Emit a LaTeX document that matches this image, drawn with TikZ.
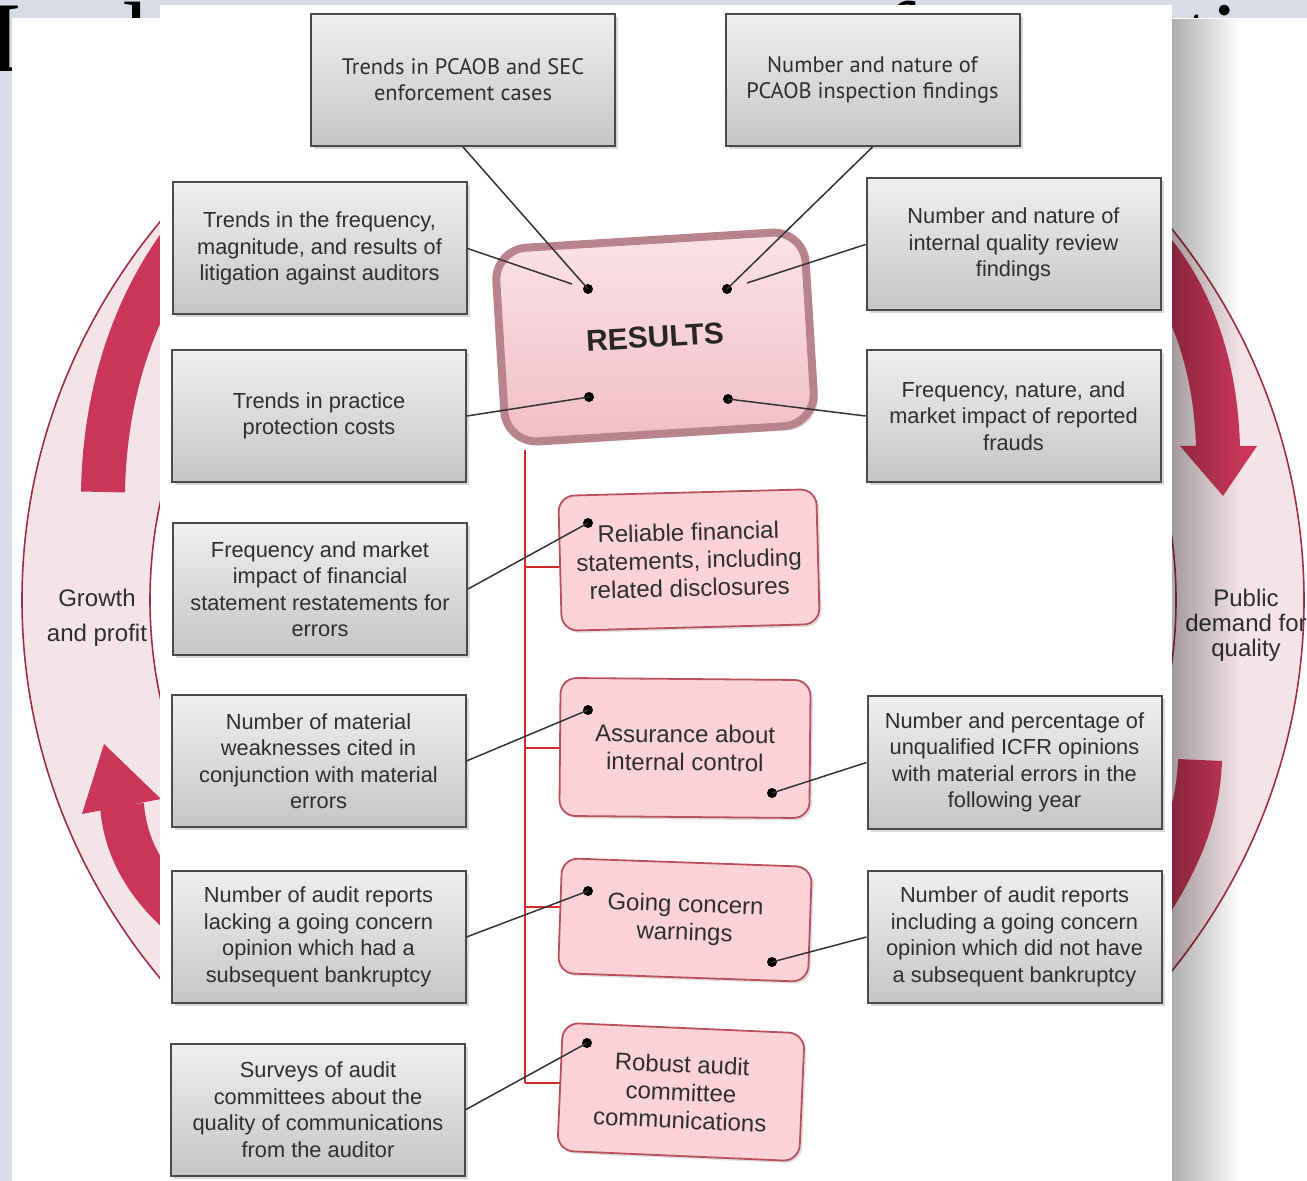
\documentclass[tikz,border=0pt]{standalone}
\usepackage{fontspec}
\setmainfont{Liberation Sans}
\newfontfamily\ttlfont{Liberation Serif}
\newfontfamily\narrowfont{PT Sans}
\usetikzlibrary{calc,shadows,fadings}
\definecolor{bgblue}{HTML}{D8DCE7}
\definecolor{ringpink}{HTML}{F3E4E8}
\definecolor{ringline}{HTML}{9E2F45}
\definecolor{arrowred}{HTML}{C9365A}
\definecolor{boxtop}{HTML}{EFEFEF}
\definecolor{boxbot}{HTML}{C6C6C6}
\definecolor{boxline}{HTML}{4A4A4A}
\definecolor{txt}{HTML}{2E2E2E}
\definecolor{pinkfill}{HTML}{FAD2D8}
\definecolor{pinkline}{HTML}{B9505D}
\definecolor{restop}{HTML}{FBE3E7}
\definecolor{resbot}{HTML}{F2BDC5}
\definecolor{resrim}{HTML}{B8838C}
\definecolor{redline}{HTML}{D42A2E}
\begin{document}
\begin{tikzpicture}[x=0.5pt,y=-0.5pt,
  graybox/.style={draw=boxline, line width=1pt, top color=boxtop, bottom color=boxbot,
    align=center, text=txt, inner sep=0pt,
    font=\fontsize{10.9}{13.25}\selectfont,
    minimum width=147pt, minimum height=66pt,
    drop shadow={opacity=0.3, shadow xshift=1.5pt, shadow yshift=-1.5pt}},
  topbox/.style={graybox, font=\narrowfont\fontsize{11.2}{13}\selectfont},
  pinkbox/.style={draw=pinkline, line width=0.9pt, fill=pinkfill, rounded corners=8pt,
    align=center, text=txt, inner sep=0pt, font=\fontsize{12}{14}\selectfont,
    drop shadow={opacity=0.25, shadow xshift=1.2pt, shadow yshift=-1.2pt}},
  dot/.style={circle, fill=black, inner sep=0pt, minimum size=5pt},
  conn/.style={draw=black!80, line width=0.75pt},
  redl/.style={draw=redline, line width=1.4pt},
  band/.style={draw=arrowred, line width=22pt, line cap=butt},
  ttl/.style={font=\ttlfont\fontsize{50}{50}\selectfont, anchor=base west, inner sep=0pt, text=black},
  ringtext/.style={align=center, text=txt, font=\fontsize{12}{17.5}\selectfont}
]
\useasboundingbox (0,0) rectangle (1307,1181);
\clip (0,0) rectangle (1307,1181);
\fill[bgblue] (0,0) rectangle (1307,1181);
% title fragments
\node[ttl] (tI) at (-12,72) {I};
\node[ttl] (td) at (97,72) {d};
\node[ttl] (tf) at (882,72) {f};
\node[ttl] (tti) at (1183,72) {ti};
% circle picture
\fill[white] (12,18) rectangle (1307,1181);
\begin{scope}
\clip (12,18) rectangle (1307,1181);
\coordinate (O) at (663,600);
\fill[ringpink, even odd rule] (O) ellipse [x radius=641, y radius=610] (O) ellipse [x radius=513, y radius=488];
\draw[ringline, line width=0.8pt] (O) ellipse [x radius=641, y radius=610];
\draw[ringline, line width=0.8pt] (O) ellipse [x radius=513, y radius=488];
% curved arrows
\draw[band] (250,172) .. controls (150,250) and (105,370) .. (103,492);
\draw[band] (1090,195) .. controls (1175,250) and (1215,340) .. (1218,447);
\fill[arrowred] (1180,446) -- (1257,446) -- (1223,496) -- cycle;
\draw[band] (1200,760) .. controls (1198,815) and (1180,870) .. (1110,960);
\draw[band] (215,940) .. controls (160,905) and (126,860) .. (122,805);
\fill[arrowred] (82,814) -- (161,799) -- (104,744) -- cycle;
\end{scope}
\node[ringtext] (growth) at (97,618) {Growth\\and profit};
\node[ringtext, font=\fontsize{12}{12.5}\selectfont] (public) at (1246,625) {Public\\demand for\\quality};
% panel
\fill[white] (160,5) rectangle (1172,1181);
\fill[black, fill opacity=0.32, path fading=east] (1172,18) rectangle (1240,1181);
% gray boxes
\node[topbox, minimum width=152pt] (g1) at (463,80) {Trends in PCAOB and SEC\\enforcement cases};
\node[topbox] (g2) at (872.5,80) {Number and nature of\\PCAOB inspection findings};
\node[graybox] (g3) at (319.5,248.5) {Trends in the frequency,\\magnitude,  and results of\\litigation  against auditors};
\node[graybox] (g4) at (1013.5,244.5) {Number and nature of\\internal quality review\\findings};
\node[graybox] (g5) at (319,416) {Trends in practice\\protection costs};
\node[graybox] (g6) at (1013.5,416) {Frequency, nature, and\\market impact of reported\\frauds};
\node[graybox] (g7) at (320,589) {Frequency and market\\impact of financial\\statement restatements for\\errors};
\node[graybox] (g8) at (318.5,761) {Number of material\\weaknesses cited in\\conjunction with material\\errors};
\node[graybox] (g9) at (1014.5,762.5) {Number and percentage of\\unqualified ICFR opinions\\with material errors in the\\following year};
\node[graybox] (g10) at (318.5,937) {Number of audit reports\\lacking a going concern\\opinion which had a\\subsequent bankruptcy};
\node[graybox] (g11) at (1014.5,937) {Number of audit reports\\including a going concern\\opinion which did not have\\a subsequent bankruptcy};
\node[graybox] (g12) at (318,1109.5) {Surveys of audit\\committees about the\\quality of communications\\from the auditor};
% results
\node[draw=resrim, line width=4pt, rounded corners=16pt, top color=restop, bottom color=resbot,
  minimum width=155pt, minimum height=97pt, rotate=3.5, text=black!85,
  font=\bfseries\fontsize{15}{18}\selectfont,
  drop shadow={opacity=0.3, shadow xshift=2pt, shadow yshift=-2pt}] (res) at (655,337) {RESULTS};
% red spine
\coordinate (rtop) at (525,450);
\coordinate (rbot) at (525,1083);
\coordinate (k1) at (525,567); \coordinate (k1e) at (561,567);
\coordinate (k2) at (525,748); \coordinate (k2e) at (561,748);
\coordinate (k3) at (525,907); \coordinate (k3e) at (561,907);
\coordinate (k4e) at (561,1083);
\draw[redl] (rtop) -- (rbot);
\draw[redl] (k1) -- (k1e);
\draw[redl] (k2) -- (k2e);
\draw[redl] (k3) -- (k3e);
\draw[redl] (rbot) -- (k4e);
% pink boxes
\node[pinkbox, minimum width=129pt, minimum height=67.5pt, rotate=1.5] (pA) at (689,560) {Reliable financial\\statements, including\\related disclosures};
\node[pinkbox, minimum width=125pt, minimum height=69pt, rotate=-0.5] (pB) at (685,748) {Assurance about\\internal control};
\node[pinkbox, minimum width=125pt, minimum height=57.5pt, rotate=-2] (pC) at (685,920) {Going concern\\warnings};
\node[pinkbox, minimum width=121pt, minimum height=64pt, rotate=-2.5] (pD) at (681,1092) {Robust audit\\committee\\communications};
% dots
\node[dot] (r1) at (588,289) {};
\node[dot] (r2) at (727,289) {};
\node[dot] (r3) at (589,397) {};
\node[dot] (r4) at (728,399) {};
\node[dot] (a1) at (588,523) {};
\node[dot] (b1) at (588,710) {};
\node[dot] (b2) at (772,793) {};
\node[dot] (c1) at (588,891) {};
\node[dot] (c2) at (772,962) {};
\node[dot] (d1) at (587,1043) {};
\coordinate (e3) at (572,284);
\coordinate (e4) at (747,283);
% connectors
\draw[conn] (g1.south) -- (r1.center);
\draw[conn] (g3.east) -- (e3);
\draw[conn] (g2.south) -- (r2.center);
\draw[conn] (g4.west) -- (e4);
\draw[conn] (g5.east) -- (r3.center);
\draw[conn] (g6.west) -- (r4.center);
\draw[conn] (g7.east) -- (a1.center);
\draw[conn] (g8.east) -- (b1.center);
\draw[conn] (g9.west) -- (b2.center);
\draw[conn] (g10.east) -- (c1.center);
\draw[conn] (g11.west) -- (c2.center);
\draw[conn] (g12.east) -- (d1.center);
\end{tikzpicture}
\end{document}
